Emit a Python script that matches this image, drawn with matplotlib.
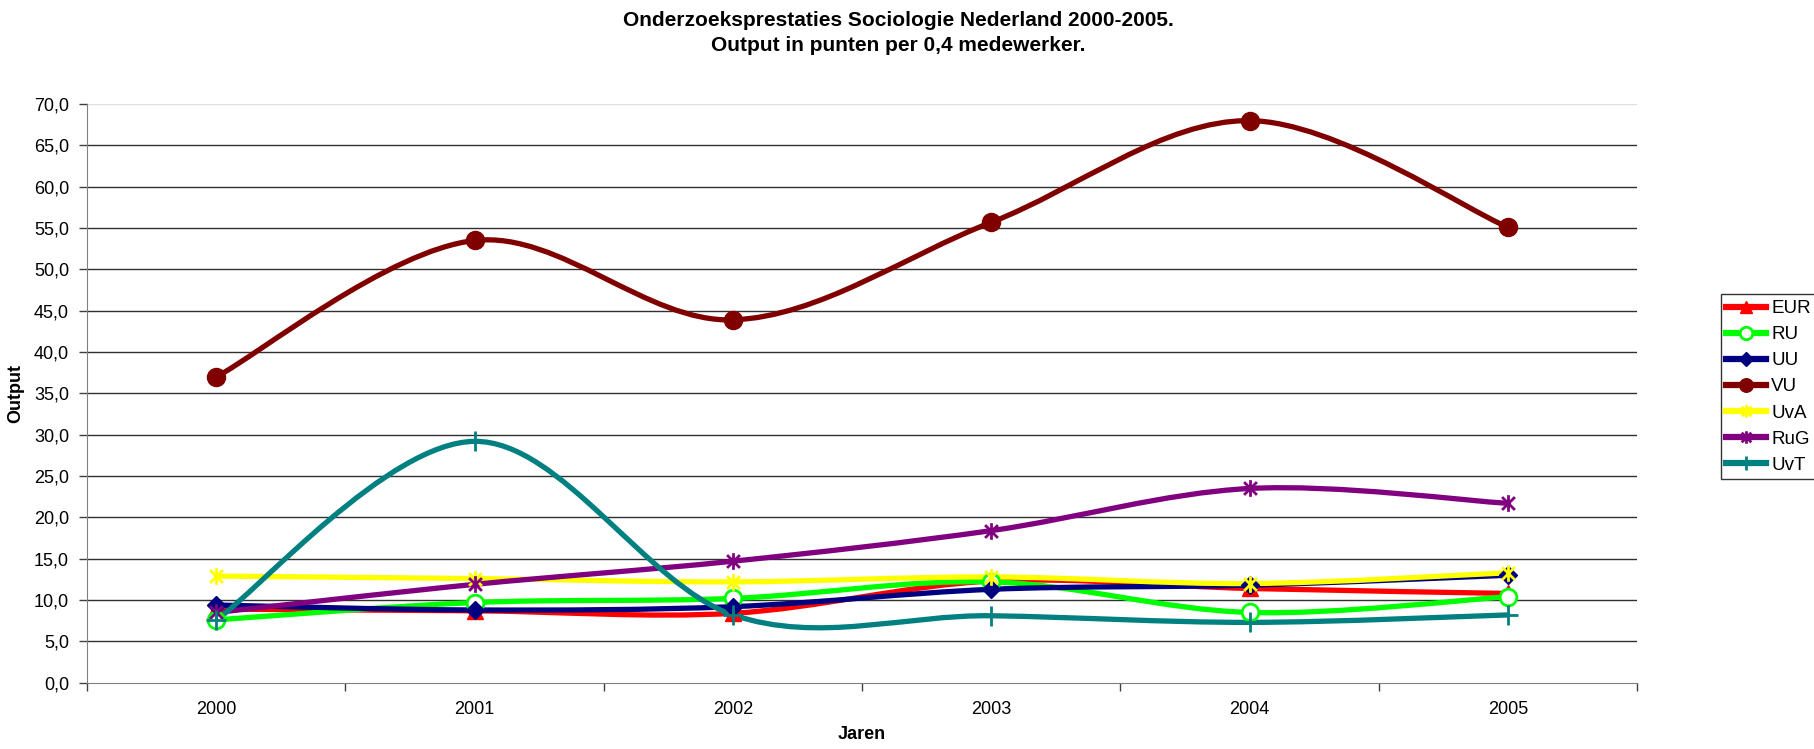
import numpy as np
import matplotlib
matplotlib.use("Agg")
import matplotlib.pyplot as plt
from matplotlib.path import Path
from matplotlib.patches import PathPatch
from matplotlib.lines import Line2D
from matplotlib.ticker import FuncFormatter, MultipleLocator, FixedLocator

plt.rcParams['font.family'] = ['Liberation Sans', 'DejaVu Sans']

years = ["2000", "2001", "2002", "2003", "2004", "2005"]
series_names = ["EUR", "RU", "UU", "VU", "UvA", "RuG", "UvT"]
eur = [8.9, 8.7, 8.4, 12.3, 11.4, 10.8]
ru = [7.6, 9.7, 10.2, 12.2, 8.5, 10.4]
uu = [9.4, 8.8, 9.2, 11.3, 11.8, 13.0]
vu = [37.0, 53.5, 43.9, 55.7, 68.0, 55.1]
uva = [12.9, 12.6, 12.2, 12.8, 12.0, 13.3]
rug = [8.5, 11.9, 14.7, 18.4, 23.5, 21.7]
uvt = [7.6, 29.2, 8.2, 8.1, 7.3, 8.2]

# excel-achtige ster: X met verticale streep
star_path = Path([(-1, -1), (1, 1), (-1, 1), (1, -1), (0, -1.3), (0, 1.3)],
                 [Path.MOVETO, Path.LINETO, Path.MOVETO, Path.LINETO, Path.MOVETO, Path.LINETO])

styles = {
    "EUR": dict(color="#FF0000", marker="^", ms=11, mfc="#FF0000", mec="#FF0000", mew=1),
    "RU": dict(color="#00FF00", marker="o", ms=12, mfc="white", mec="#00FF00", mew=2),
    "UU": dict(color="#000080", marker="D", ms=9, mfc="#000080", mec="#000080", mew=1),
    "VU": dict(color="#800000", marker="o", ms=13, mfc="#800000", mec="#800000", mew=1),
    "UvA": dict(color="#FFFF00", marker=star_path, ms=12, mfc="none", mec="#FFFF00", mew=2),
    "RuG": dict(color="#800080", marker=star_path, ms=12, mfc="none", mec="#800080", mew=2),
    "UvT": dict(color="#008080", marker="+", ms=14, mfc="none", mec="#008080", mew=2),
}


def smooth_path(xs, ys):
    # Catmull-Rom als kubische Bezier (zoals Excel's 'vloeiende lijn')
    pts = np.column_stack([xs, ys]).astype(float)
    n = len(pts)
    verts = [pts[0]]
    codes = [Path.MOVETO]
    for i in range(n - 1):
        p0 = pts[i - 1] if i > 0 else pts[i]
        p1 = pts[i]
        p2 = pts[i + 1]
        p3 = pts[i + 2] if i + 2 < n else pts[i + 1]
        c1 = p1 + (p2 - p0) / 6.0
        c2 = p2 - (p3 - p1) / 6.0
        verts += [c1, c2, p2]
        codes += [Path.CURVE4] * 3
    return Path(verts, codes)


fig = plt.figure(figsize=(18.15, 7.49), dpi=100)
ax = fig.add_axes([0.048, 0.0885, 0.854, 0.7725])

x = np.arange(len(years))
data = [eur, ru, uu, vu, uva, rug, uvt]
handles = []
for name, vals in zip(series_names, data):
    st = styles[name]
    patch = PathPatch(smooth_path(x, vals), fill=False, edgecolor=st["color"], lw=3.8,
                      capstyle="round", joinstyle="round", transform=ax.transData)
    ax.add_patch(patch)
    ax.plot(x, vals, linestyle="none", marker=st["marker"], ms=st["ms"],
            mfc=st["mfc"], mec=st["mec"], mew=st["mew"])
    handles.append(Line2D([], [], color=st["color"], lw=4.5, marker=st["marker"],
                          ms=st["ms"] * 0.75, mfc=st["mfc"], mec=st["mec"], mew=st["mew"]))

ax.set_xlim(-0.5, len(years) - 0.5)
ax.set_ylim(0, 70)
ax.yaxis.set_major_locator(MultipleLocator(5))
ax.yaxis.set_major_formatter(FuncFormatter(lambda v, p: f"{v:.1f}".replace(".", ",")))
ax.set_xticks(x)
ax.set_xticklabels(years)
ax.xaxis.set_minor_locator(FixedLocator(np.arange(-0.5, len(years), 1.0)))
ax.tick_params(axis="x", which="major", length=0, pad=13, labelsize=13)
ax.tick_params(axis="x", which="minor", length=6, width=1, color="#404040")
ax.tick_params(axis="y", length=6, width=1, color="#404040", pad=7, labelsize=13)

for v in np.arange(5, 70, 5):
    ax.axhline(v, color="#303030", lw=1, zorder=0)
ax.axhline(70, color="#e0e0e0", lw=1, zorder=0)

for side in ["top", "right"]:
    ax.spines[side].set_visible(False)
ax.spines["left"].set_color("#808080")
ax.spines["bottom"].set_color("#808080")

ax.set_ylabel("Output", fontsize=13, fontweight="bold", labelpad=7)
ax.set_xlabel("Jaren", fontsize=13, fontweight="bold", labelpad=6)

fig.text(0.495, 0.985, "Onderzoeksprestaties Sociologie Nederland 2000-2005.\nOutput in punten per 0,4 medewerker.",
         ha="center", va="top", fontsize=15, fontweight="bold", linespacing=1.4)

leg = fig.legend(handles, series_names, loc="upper left", bbox_to_anchor=(0.948, 0.607),
                 bbox_transform=fig.transFigure, fontsize=13.5, frameon=True, fancybox=False,
                 handlelength=2.1, handletextpad=0.3, labelspacing=0.48, borderpad=0.3,
                 borderaxespad=0)
leg.get_frame().set_edgecolor("black")
leg.get_frame().set_linewidth(1)

fig.savefig("out.png", dpi=100)
